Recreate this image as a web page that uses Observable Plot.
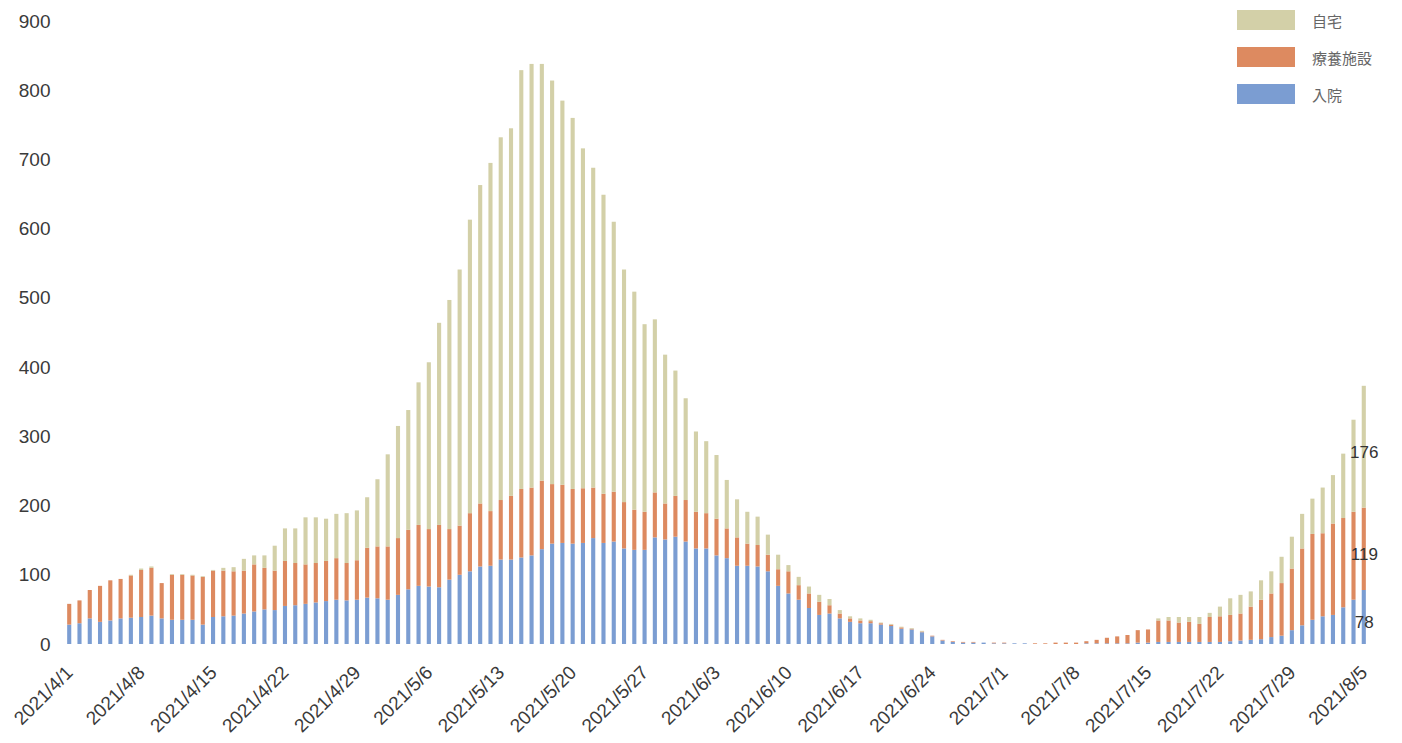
<!DOCTYPE html>
<html>
<head>
<meta charset="utf-8">
<script src="https://cdn.jsdelivr.net/npm/d3@7"></script>
<script src="https://cdn.jsdelivr.net/npm/@observablehq/plot@0.6"></script>
<style>
  html, body { margin: 0; padding: 0; background: #fff; }
  #wrap { position: relative; width: 1402px; height: 743px; font-family: 'Liberation Sans', Arial, sans-serif; }
  #legend { position: absolute; left: 1237px; top: 10px; }
  .row { display: flex; align-items: center; height: 20px; margin-bottom: 17px; }
  .sw { width: 58px; height: 20px; margin-right: 17px; }
  .lb { font-size: 15px; color: #666; font-family: 'Noto Sans CJK JP', sans-serif; }
</style>
</head>
<body>
<div id="wrap"><div id="legend"></div></div>
<script>
// Categories
const startDate = "2021-04-01";
const endDate = "2021-08-05";
const tickLabels = ["2021/4/1","2021/4/8","2021/4/15","2021/4/22","2021/4/29","2021/5/6","2021/5/13","2021/5/20","2021/5/27","2021/6/3","2021/6/10","2021/6/17","2021/6/24","2021/7/1","2021/7/8","2021/7/15","2021/7/22","2021/7/29","2021/8/5"];
const yTicks = [0,100,200,300,400,500,600,700,800,900];
const seriesNames = ["入院", "療養施設", "自宅"];          // stacking order, bottom to top
const legendOrder = ["自宅", "療養施設", "入院"];
const seriesColors = ["#7b9dd2", "#dd8a60", "#d3d0a8"];

// Series values (one per day, 2021/4/1 .. 2021/8/5)
const hospital = [28,30,37,32,34,37,38,39,41,37,35,35,35,28,39,40,41,44,47,50,49,55,56,58,60,62,64,63,64,67,
  66,64,71,79,84,83,82,93,100,105,112,113,122,122,125,128,137,145,146,145,146,153,146,148,138,136,136,154,151,155,
  148,138,138,128,124,113,113,112,105,84,73,64,52,42,44,37,32,30,30,28,26,22,21,17,11,5,3,2,2,2,
  1,1,1,1,0,0,0,0,0,1,1,1,1,1,2,2,3,3,3,3,3,3,3,4,5,6,7,10,12,20,
  27,35,40,42,53,64,78];
const facility = [30,33,41,52,58,57,61,68,69,51,65,65,64,69,67,66,64,62,68,60,57,65,61,57,57,58,60,54,57,72,
  75,77,82,86,88,83,90,73,71,84,91,79,86,92,99,98,99,86,84,79,79,73,71,72,67,58,55,65,52,59,
  60,53,51,53,43,41,32,31,24,24,32,21,21,19,12,7,5,4,3,2,2,2,1,1,1,1,1,1,1,0,
  1,1,0,0,1,1,2,2,2,3,5,8,10,12,18,19,31,31,28,29,26,36,37,38,39,48,57,63,76,89,
  111,124,120,132,129,127,119];
const home = [0,0,0,0,0,0,1,2,2,0,1,1,1,1,1,4,6,17,13,18,36,47,50,68,66,61,64,72,72,73,
  97,133,162,173,206,241,292,331,370,424,460,503,524,531,605,612,602,583,555,536,491,462,432,390,336,315,271,250,215,181,
  147,116,104,92,70,55,46,41,29,21,9,12,10,10,9,5,3,3,2,1,1,1,1,1,0,0,0,0,0,0,
  0,0,0,0,0,0,0,0,0,0,0,0,0,0,0,0,3,5,8,7,10,6,14,24,27,22,28,32,38,46,
  50,51,66,70,93,133,176];

const fmt = d => `${d.getUTCFullYear()}/${d.getUTCMonth() + 1}/${d.getUTCDate()}`;
const dates = d3.utcDay.range(new Date(startDate), d3.utcDay.offset(new Date(endDate), 1)).map(fmt);
const seriesValues = [hospital, facility, home];

const rows = dates.flatMap((date, i) => seriesNames.map((type, k) => ({date, type, value: seriesValues[k][i]})));
const lastDate = dates[dates.length - 1];
const lastRows = rows.filter(d => d.date === lastDate);

const chart = Plot.plot({
  width: 1402,
  height: 743,
  marginLeft: 61,
  marginRight: 30,
  marginTop: 21,
  marginBottom: 99,
  style: {fontFamily: "'Liberation Sans', Arial, sans-serif", fontSize: "18px", color: "#3a3a3a", background: "white"},
  x: {domain: dates, padding: 0.6},
  y: {domain: [0, 900]},
  color: {domain: seriesNames, range: seriesColors},
  marks: [
    Plot.axisY({ticks: yTicks, tickSize: 0, tickPadding: 11, fontSize: 19, label: null}),
    Plot.axisX({ticks: tickLabels, tickSize: 0, tickPadding: 25, tickRotate: -45, fontSize: 19, label: null}),
    Plot.barY(rows, {x: "date", y: "value", fill: "type", order: seriesNames}),
    Plot.text(lastRows, Plot.stackY({x: "date", y: "value", z: "type", order: seriesNames, text: d => String(d.value), fill: "#333", fontSize: 17, dy: 5}))
  ]
});
document.getElementById("wrap").prepend(chart);

const legend = document.getElementById("legend");
legendOrder.forEach(name => {
  const row = document.createElement("div");
  row.className = "row";
  const sw = document.createElement("div");
  sw.className = "sw";
  sw.style.background = seriesColors[seriesNames.indexOf(name)];
  const lb = document.createElement("span");
  lb.className = "lb";
  lb.textContent = name;
  row.append(sw, lb);
  legend.append(row);
});
</script>
</body>
</html>
